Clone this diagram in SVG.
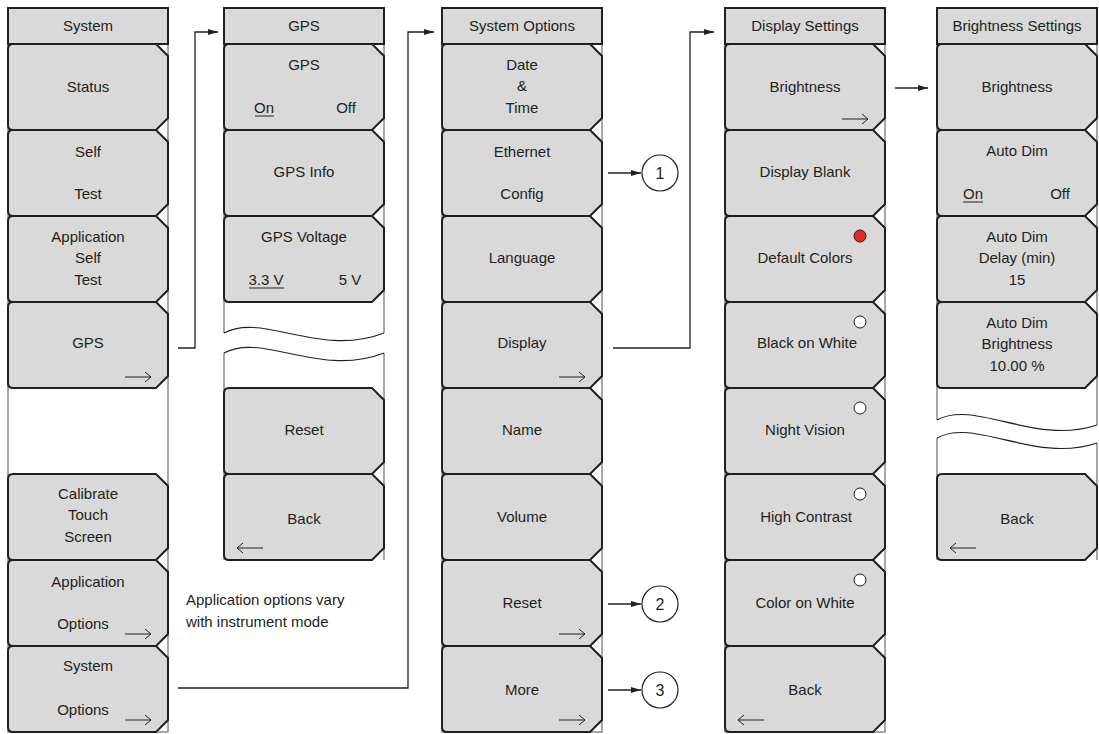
<svg xmlns="http://www.w3.org/2000/svg" xmlns:xlink="http://www.w3.org/1999/xlink" width="1099" height="734" viewBox="0 0 1099 734">
<style>
.t{font-family:"Liberation Sans",Arial,sans-serif;font-size:15px;fill:#231f20;text-anchor:middle}
.a{font-family:"Liberation Sans",Arial,sans-serif;font-size:15px;fill:#231f20}
.n{font-family:"Liberation Sans",Arial,sans-serif;font-size:16px;fill:#231f20;text-anchor:middle}
.hdr{fill:#d9d9d9;stroke:#231f20;stroke-width:2}
.frame{fill:none;stroke:#6d6d6d;stroke-width:1.2}
.wave{fill:none;stroke:#231f20;stroke-width:1.2}
.ico{fill:none;stroke:#231f20;stroke-width:1}
.ul{stroke:#231f20;stroke-width:1}
.conn{fill:none;stroke:#231f20;stroke-width:1.3}
.radio{fill:#ffffff;stroke:#231f20;stroke-width:1}
.call{fill:#ffffff;stroke:#231f20;stroke-width:1.2}
</style>
<defs>
<path id="btn" d="M5,0 H148 L160,12 V74 L148,86 H5 Q0,86 0,81 V5 Q0,0 5,0 Z" fill="#d9d9d9" stroke="#231f20" stroke-width="2" stroke-linejoin="miter"/>
<path id="ra" d="M0,0 H26 M20,-5 L26,0 L20,5" fill="none" stroke="#231f20" stroke-width="1"/>
<path id="la" d="M26,0 H0 M6,-5 L0,0 L6,5" fill="none" stroke="#231f20" stroke-width="1"/>
<marker id="ah" viewBox="0 0 10 6" refX="10" refY="3" markerWidth="10" markerHeight="6" markerUnits="userSpaceOnUse" orient="auto">
<path d="M0,0 L10,3 L0,6 Z" fill="#231f20"/>
</marker>
</defs>

<!-- Column 1: System -->
<g id="col-system">
<rect class="frame" x="8" y="44" width="160" height="688"/>
<g id="system-header"><rect class="hdr" x="8" y="8" width="160" height="36"/><text class="t" x="88" y="31">System</text></g>
<g id="system-status"><use href="#btn" x="8" y="44"/><text class="t" x="88" y="92">Status</text></g>
<g id="system-selftest"><use href="#btn" x="8" y="130"/><text class="t" x="88" y="157">Self</text><text class="t" x="88" y="199">Test</text></g>
<g id="system-appselftest"><use href="#btn" x="8" y="216"/><text class="t" x="88" y="242">Application</text><text class="t" x="88" y="263">Self</text><text class="t" x="88" y="285">Test</text></g>
<g id="system-gps"><use href="#btn" x="8" y="302"/><text class="t" x="88" y="348">GPS</text><use href="#ra" x="125" y="377"/></g>
<g id="system-calibrate"><use href="#btn" x="8" y="474"/><text class="t" x="88" y="499">Calibrate</text><text class="t" x="88" y="520">Touch</text><text class="t" x="88" y="542">Screen</text></g>
<g id="system-appoptions"><use href="#btn" x="8" y="560"/><text class="t" x="88" y="587">Application</text><text class="t" x="83" y="629">Options</text><use href="#ra" x="125" y="634"/></g>
<g id="system-sysoptions"><use href="#btn" x="8" y="646"/><text class="t" x="88" y="671">System</text><text class="t" x="83" y="715">Options</text><use href="#ra" x="125" y="720"/></g>
</g>

<!-- Column 2: GPS -->
<g id="col-gps">
<path class="frame" d="M224,44 V333 M384,44 V333 M224,353 V560 M384,353 V560"/>
<g id="gps-header"><rect class="hdr" x="224" y="8" width="160" height="36"/><text class="t" x="304" y="31">GPS</text></g>
<g id="gps-onoff"><use href="#btn" x="224" y="44"/><text class="t" x="304" y="70">GPS</text><text class="t" x="264" y="113">On</text><line class="ul" x1="255" y1="116" x2="274" y2="116"/><text class="t" x="346" y="113">Off</text></g>
<g id="gps-info"><use href="#btn" x="224" y="130"/><text class="t" x="304" y="177">GPS Info</text></g>
<g id="gps-voltage"><use href="#btn" x="224" y="216"/><text class="t" x="304" y="242">GPS Voltage</text><text class="t" x="266" y="285">3.3 V</text><line class="ul" x1="249" y1="288" x2="284" y2="288"/><text class="t" x="350" y="285">5 V</text></g>
<g id="gps-break"><path class="wave" d="M224,333 C262,312 320,358 384,333"/><path class="wave" d="M224,353 C262,332 320,378 384,353"/></g>
<g id="gps-reset"><use href="#btn" x="224" y="388"/><text class="t" x="304" y="435">Reset</text></g>
<g id="gps-back"><use href="#btn" x="224" y="474"/><text class="t" x="304" y="524">Back</text><use href="#la" x="237" y="548"/></g>
</g>

<!-- Column 3: System Options -->
<g id="col-sysopt">
<rect class="frame" x="442" y="44" width="160" height="688"/>
<g id="sysopt-header"><rect class="hdr" x="442" y="8" width="160" height="36"/><text class="t" x="522" y="31">System Options</text></g>
<g id="sysopt-datetime"><use href="#btn" x="442" y="44"/><text class="t" x="522" y="70">Date</text><text class="t" x="522" y="91">&amp;</text><text class="t" x="522" y="113">Time</text></g>
<g id="sysopt-ethernet"><use href="#btn" x="442" y="130"/><text class="t" x="522" y="157">Ethernet</text><text class="t" x="522" y="199">Config</text></g>
<g id="sysopt-language"><use href="#btn" x="442" y="216"/><text class="t" x="522" y="263">Language</text></g>
<g id="sysopt-display"><use href="#btn" x="442" y="302"/><text class="t" x="522" y="348">Display</text><use href="#ra" x="559" y="377"/></g>
<g id="sysopt-name"><use href="#btn" x="442" y="388"/><text class="t" x="522" y="435">Name</text></g>
<g id="sysopt-volume"><use href="#btn" x="442" y="474"/><text class="t" x="522" y="522">Volume</text></g>
<g id="sysopt-reset"><use href="#btn" x="442" y="560"/><text class="t" x="522" y="608">Reset</text><use href="#ra" x="559" y="634"/></g>
<g id="sysopt-more"><use href="#btn" x="442" y="646"/><text class="t" x="522" y="695">More</text><use href="#ra" x="559" y="720"/></g>
</g>

<!-- Column 4: Display Settings -->
<g id="col-display">
<rect class="frame" x="725" y="44" width="160" height="688"/>
<g id="disp-header"><rect class="hdr" x="725" y="8" width="160" height="36"/><text class="t" x="805" y="31">Display Settings</text></g>
<g id="disp-brightness"><use href="#btn" x="725" y="44"/><text class="t" x="805" y="92">Brightness</text><use href="#ra" x="842" y="119"/></g>
<g id="disp-blank"><use href="#btn" x="725" y="130"/><text class="t" x="805" y="177">Display Blank</text></g>
<g id="disp-default"><use href="#btn" x="725" y="216"/><text class="t" x="805" y="263">Default Colors</text><circle cx="860" cy="236" r="6" fill="#e8252b" stroke="#231f20" stroke-width="1"/></g>
<g id="disp-blackwhite"><use href="#btn" x="725" y="302"/><text class="t" x="807" y="348">Black on White</text><circle class="radio" cx="860" cy="322" r="6"/></g>
<g id="disp-night"><use href="#btn" x="725" y="388"/><text class="t" x="805" y="435">Night Vision</text><circle class="radio" cx="860" cy="408" r="6"/></g>
<g id="disp-contrast"><use href="#btn" x="725" y="474"/><text class="t" x="806" y="522">High Contrast</text><circle class="radio" cx="860" cy="494" r="6"/></g>
<g id="disp-colorwhite"><use href="#btn" x="725" y="560"/><text class="t" x="805" y="608">Color on White</text><circle class="radio" cx="860" cy="580" r="6"/></g>
<g id="disp-back"><use href="#btn" x="725" y="646"/><text class="t" x="805" y="695">Back</text><use href="#la" x="738" y="720"/></g>
</g>

<!-- Column 5: Brightness Settings -->
<g id="col-bright">
<path class="frame" d="M937,44 V420 M1097,44 V425 M937,438 V560 M1097,443 V560"/>
<g id="bright-header"><rect class="hdr" x="937" y="8" width="160" height="36"/><text class="t" x="1017" y="31">Brightness Settings</text></g>
<g id="bright-brightness"><use href="#btn" x="937" y="44"/><text class="t" x="1017" y="92">Brightness</text></g>
<g id="bright-autodim"><use href="#btn" x="937" y="130"/><text class="t" x="1017" y="156">Auto Dim</text><text class="t" x="973" y="199">On</text><line class="ul" x1="963" y1="202" x2="983" y2="202"/><text class="t" x="1060" y="199">Off</text></g>
<g id="bright-delay"><use href="#btn" x="937" y="216"/><text class="t" x="1017" y="242">Auto Dim</text><text class="t" x="1017" y="263">Delay (min)</text><text class="t" x="1017" y="285">15</text></g>
<g id="bright-level"><use href="#btn" x="937" y="302"/><text class="t" x="1017" y="328">Auto Dim</text><text class="t" x="1017" y="349">Brightness</text><text class="t" x="1017" y="371">10.00 %</text></g>
<g id="bright-break"><path class="wave" d="M937,420 C975,399 1035,446 1097,425"/><path class="wave" d="M937,438 C975,417 1035,464 1097,443"/></g>
<g id="bright-back"><use href="#btn" x="937" y="474"/><text class="t" x="1017" y="524">Back</text><use href="#la" x="950" y="548"/></g>
</g>

<!-- Callouts -->
<g id="callout-1"><circle class="call" cx="660" cy="173" r="18"/><text class="n" x="660" y="179">1</text></g>
<g id="callout-2"><circle class="call" cx="660" cy="604" r="18"/><text class="n" x="660" y="610">2</text></g>
<g id="callout-3"><circle class="call" cx="660" cy="690" r="18"/><text class="n" x="660" y="696">3</text></g>

<!-- Note -->
<g id="note"><text class="a" x="186" y="605">Application options vary</text><text class="a" x="186" y="627">with instrument mode</text></g>

<!-- Connectors -->
<g id="connectors">
<path class="conn" d="M178,348 H195 V32 H218" marker-end="url(#ah)"/>
<path class="conn" d="M178,688 H408 V32 H434" marker-end="url(#ah)"/>
<path class="conn" d="M613,348 H690 V32 H714" marker-end="url(#ah)"/>
<path class="conn" d="M895,88 H928" marker-end="url(#ah)"/>
<path class="conn" d="M608,173 H641" marker-end="url(#ah)"/>
<path class="conn" d="M608,604 H641" marker-end="url(#ah)"/>
<path class="conn" d="M608,690 H641" marker-end="url(#ah)"/>
</g>
</svg>
